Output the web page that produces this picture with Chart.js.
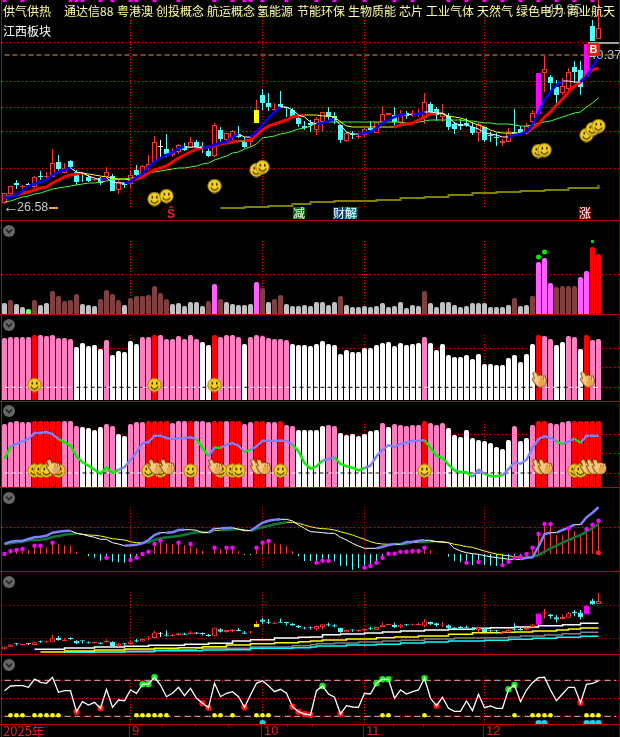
<!DOCTYPE html>
<html><head><meta charset="utf-8">
<style>
html,body{margin:0;padding:0;background:#000;overflow:hidden}
#stage{position:relative;width:620px;height:737px;background:#000;overflow:hidden}
canvas{position:absolute;left:1px}
.t{position:absolute;white-space:nowrap;font-family:"Noto Sans CJK SC","Liberation Sans",sans-serif;font-size:12px;line-height:12px}
.b{position:absolute;background:#c00000}
.n{font-family:"Liberation Sans",sans-serif}
.c{position:absolute;width:12px;height:12px}
</style>
<script src="https://cdn.jsdelivr.net/npm/chart.js@4/dist/chart.umd.min.js"></script>
</head><body><div id="stage"></div>
<script>
const bannerLabels=['供气供热','通达信88','粤港澳','创投概念','航运概念','氢能源','节能环保','生物质能','芯片','工业气体','天然气','绿色电力','商业航天'];
const bannerX=[3,64,117,156,207,257,297,348,399,426,477,516,567];
const monthLabels=['9','10','11','12'];
const monthIdx=[21,43,60,80];
const yearLabel='2025年';

const open_=[26.7,27.6,28.7,28.3,28.5,28.3,29.4,29.3,29.3,30.8,
29.7,30.9,29.8,29.7,29.3,29.0,29.2,29.3,29.4,28.0,
28.7,28.6,30.0,29.5,30.3,30.8,32.3,32.1,31.5,31.8,
32.4,32.2,32.8,32.4,31.9,31.4,34.0,33.0,33.3,33.6,
32.8,32.8,34.7,37.5,36.7,36.0,36.6,36.3,36.0,35.2,
34.4,34.7,34.0,34.8,35.8,35.4,34.5,32.9,33.6,33.3,
33.5,34.2,33.7,34.8,35.5,35.5,34.7,35.7,35.6,35.5,
35.2,36.6,36.1,35.3,35.4,34.6,34.6,34.7,34.3,33.7,
34.3,33.5,33.3,32.7,32.8,33.8,34.1,33.8,34.8,35.6,
39.7,39.3,38.3,37.7,38.1,40.3,40.0,39.3,44.4,43.1];
const close_=[27.7,28.4,28.5,28.4,28.5,29.3,29.3,29.4,30.7,30.1,
30.2,30.3,28.8,29.6,28.9,29.1,28.7,29.8,27.9,28.8,
28.5,29.5,29.5,30.4,30.6,32.8,32.3,31.6,31.8,32.5,
32.0,32.8,32.3,32.2,31.4,34.5,33.1,33.7,33.9,33.3,
32.3,33.1,36.0,36.7,36.3,36.1,36.3,36.2,35.3,34.6,
34.2,34.5,35.1,35.8,35.3,35.0,33.0,33.7,33.5,33.4,
34.1,34.0,34.8,35.6,35.7,34.8,35.6,35.4,35.7,35.7,
36.8,35.8,35.5,35.7,34.3,34.1,34.4,34.5,33.7,34.6,
33.0,33.4,33.2,32.9,33.7,33.6,33.6,34.4,35.7,39.7,
40.1,38.7,37.5,38.4,39.8,39.8,38.3,42.6,42.9,44.2];
const high_=[27.7,28.4,29.0,28.5,28.7,29.4,29.9,29.8,32.1,31.5,
30.7,31.0,30.0,29.8,29.5,29.2,29.3,30.3,29.6,29.0,
28.8,30.0,30.5,30.5,31.5,33.4,33.0,33.6,32.2,32.6,
32.7,33.3,33.0,32.8,32.2,34.7,34.3,33.7,34.0,34.4,
33.3,33.3,37.0,38.1,37.7,36.7,37.9,36.3,36.2,35.5,
34.9,35.0,35.3,35.8,36.3,35.8,34.5,33.8,33.9,33.7,
34.2,34.9,34.8,36.4,35.7,36.3,36.0,35.9,36.0,36.1,
37.7,36.8,36.3,36.6,35.7,34.8,35.1,35.2,34.8,34.8,
34.3,33.8,33.7,33.1,34.2,36.1,34.4,34.7,36.0,39.7,
41.4,39.5,39.0,39.2,40.2,40.9,40.9,42.6,45.0,47.0];
const low_=[26.6,27.6,28.1,28.0,28.3,28.2,29.0,29.0,29.3,29.8,
29.7,30.2,28.5,28.8,28.8,28.9,28.5,29.2,27.9,27.6,
28.2,28.2,29.3,29.4,30.0,30.7,31.2,31.3,31.3,31.6,
31.9,32.2,32.2,31.7,31.3,31.3,32.8,32.7,33.0,33.2,
32.2,32.3,34.7,36.0,35.9,35.8,36.3,35.3,35.2,34.3,
34.0,33.8,33.5,33.8,35.0,34.6,32.7,32.8,33.1,33.1,
33.3,33.7,33.7,34.7,35.5,34.4,34.4,35.1,35.3,35.3,
34.6,35.5,34.9,34.8,34.0,33.6,34.0,34.3,33.5,32.8,
32.8,32.8,32.4,32.4,32.8,33.5,33.5,33.5,34.7,35.6,
37.8,37.8,36.5,37.5,38.0,38.7,37.5,39.3,42.9,43.1];
const maFast=[27.2,27.3,27.5,27.9,28.4,28.6,28.8,29.0,29.5,29.8,
30.0,30.2,29.8,29.7,29.4,29.2,29.0,29.2,28.8,28.7,
28.7,28.8,29.3,29.6,30.3,30.8,31.2,31.5,31.7,32.2,
32.3,32.3,32.3,32.2,32.3,32.5,32.7,32.8,33.3,33.6,
33.3,33.3,33.8,34.5,35.2,35.8,36.3,36.3,36.0,35.5,
35.3,34.8,34.6,34.7,34.9,35.1,34.5,33.8,33.6,33.6,
33.7,33.8,34.2,34.7,35.0,35.3,35.5,35.6,35.5,35.6,
35.8,35.8,35.7,35.7,35.3,34.7,34.5,34.5,34.3,34.1,
33.7,33.6,33.5,33.3,33.3,33.5,33.6,33.8,34.5,35.7,
37.0,37.8,38.5,38.9,38.9,38.8,38.8,39.3,40.3,41.3];
const maMid=[27.3,27.4,27.5,27.7,27.8,28.0,28.2,28.3,28.7,29.0,
29.3,29.5,29.6,29.7,29.6,29.5,29.4,29.3,29.2,29.1,
29.1,29.0,29.1,29.3,29.7,30.0,30.2,30.4,30.8,31.2,
31.5,31.8,32.1,32.2,32.3,32.4,32.6,32.7,32.8,32.9,
32.9,33.0,33.5,34.0,34.4,34.6,34.8,35.0,35.3,35.4,
35.5,35.5,35.5,35.4,35.4,35.3,34.8,34.4,34.3,34.3,
34.3,34.3,34.3,34.3,34.3,34.3,34.5,34.6,34.7,35.0,
35.3,35.6,35.7,35.6,35.4,35.3,35.2,35.0,34.7,34.5,
34.3,34.0,33.8,33.7,33.7,33.7,33.7,33.7,34.2,34.6,
35.3,35.8,36.5,37.1,37.8,38.4,38.8,39.5,40.0,40.2];
const maSlow=[26.8,26.9,27.1,27.3,27.4,27.6,27.7,27.9,28.1,28.2,
28.3,28.4,28.5,28.6,28.7,28.7,28.8,28.9,29.0,29.1,
29.1,29.2,29.3,29.4,29.7,29.8,29.9,30.0,30.1,30.2,
30.2,30.3,30.4,30.6,30.7,31.0,31.2,31.4,31.7,31.8,
32.1,32.3,32.6,33.2,33.3,33.4,33.6,33.7,33.9,34.1,
34.2,34.4,34.7,34.8,34.8,34.8,34.8,34.8,34.8,34.8,
34.8,34.8,34.8,34.8,34.8,34.8,34.8,34.7,34.7,34.8,
34.9,35.0,35.0,35.0,35.0,35.0,35.0,34.9,34.9,34.8,
34.7,34.7,34.6,34.6,34.6,34.5,34.4,34.4,34.5,34.7,
34.8,34.9,35.1,35.3,35.5,35.7,35.8,36.3,36.7,37.2];
const oliveIdx=[36,40,44,48,51,55,59,62,66,70,74,78,82,86,90,94,99];
const oliveVal=[26.2,26.3,26.4,26.6,26.8,26.9,26.9,27.0,27.2,27.3,27.5,27.7,27.8,27.9,28.0,28.2,28.5];
const topMarkIdx=[0,3,11,12,13,16,18,21,22,25,29,35,38,40,41,43,47,52,55,60,65,68,74,77,80,83,86,89,92,95,98];
const magentaCandles=[89,97];
const yellowCandles=[42];
const mainSmileIdx=[25,27,35,42,43,89,90,97,98,99];
const mainSmileVal=[27.1,27.4,28.4,30.0,30.3,31.9,32.0,33.5,34.1,34.4];

const volume=[11,14,10,7,5,14,9,11,23,18,
13,14,20,10,9,8,15,24,20,14,
9,16,18,18,19,28,21,15,10,11,
8,12,12,8,13,30,15,12,10,9,
9,10,32,26,12,15,19,10,8,8,
9,8,12,12,9,12,18,9,7,7,
8,7,8,11,7,8,12,6,9,8,
23,11,7,12,12,9,7,8,11,11,
11,7,7,7,9,16,8,9,18,52,
56,31,27,28,28,28,37,43,67,60];
const volKind=('gbggnbggbb'+'bbbgggbbbb'+'gbbbbbbbgg'+'ggggbmbggg'+'ggmbgbbggg'+'ggggggbggg'+'gggggggggg'+'bggggggggg'+'gggggbggbm'+'mmbbbbmmrr').split('');
const volDotIdx=[89,90];const volDotVal=[57,62];
const volDashIdx=[98];const volDashVal=[72.5];

const strength=[62,63,63,63,63,65,65,64,65,62,
62,61,53,57,54,55,51,60,45,49,
48,59,56,63,63,65,65,61,61,64,
61,65,61,58,55,65,63,65,65,63,
56,63,65,64,62,61,61,60,56,55,
55,54,56,59,56,55,46,50,48,48,
52,52,55,57,58,54,57,55,56,57,
63,57,50,56,45,43,43,45,41,46,
36,36,35,35,42,45,38,46,56,65,
64,61,55,58,64,63,51,65,60,61];
const strengthKind=('ppppprpppp'+'ppwwwwwpww'+'wwwpprpppp'+'pppwwrpppp'+'wpppppppww'+'wwwwwwwwww'+'wwwwwwwwww'+'pwwwwwwwww'+'wwwwwwwwwr'+'ppwwppwrpp').split('');
const s3SmileIdx=[5,25,35];const s3SmileVal=[15,15,15];
const s3HandIdx=[89,97];const s3HandVal=[21,21];

const trend=[63,65,66,65,65,66,66,66,66,66,
66,66,61,60,59,57,60,63,61,53,
51,63,65,65,66,66,66,66,64,66,
66,66,66,66,65,66,66,66,66,66,
63,65,66,66,65,65,66,62,61,57,
57,57,57,61,62,61,54,52,53,51,
53,56,57,64,60,63,62,61,62,62,
66,64,62,64,59,52,50,57,49,47,
46,44,40,38,47,61,46,49,62,66,
66,64,63,65,66,66,66,66,66,66];
const trendKind=('ppppprrrrr'+'pppwwwwppw'+'wppprrrrpp'+'prppprrprr'+'pprrpprppw'+'wwwwppwwww'+'wwwpwppppp'+'rpppwwwwww'+'wwwwwpwwpr'+'rpppprrrrr').split('');
const kdj=[28,40.7,43,45.7,48,54,54,55,53,48,
44.7,41.3,30.7,24.7,21.3,17.3,13.3,19.7,14,17.3,
19.7,27.3,34.7,44,45,51.3,51.3,49,48,48.7,
48.7,49.7,48,39,30.7,39.7,39,42.3,44,41.3,
35,37.3,40.7,46.3,46.3,46.3,46.3,46.3,42.3,35.7,
24,18.3,20.7,26.3,28,30,23,20.7,19.3,16.7,
19,21.3,30.7,37.3,41.7,40,43,44.3,46,46.3,
46.7,39,31.3,29,22.3,16.7,14.7,14.7,10,17.3,
13.3,10.7,10.7,11.7,18,24.7,23.3,27.3,39,48,
50.7,49,45.7,43,45.7,48.3,44,51.3,51.3,51.3];
const kdjGreen=[0,9,10,11,12,13,14,15,16,17,18,32,33,35,40,48,49,50,51,52,55,56,57,58,59,70,71,72,73,74,75,76,77,80,81,82,92,95];
const t4SmileIdx=[5,6,7,9,24,26,31,36,38,39,46,70,95,96];
const t4SmileVal=[16.3,16.3,16.3,16.3,16.3,16.3,16.3,16.3,16.3,16.3,16.3,16.3,16.3,16.3];
const t4HandIdx=[8,25,27,35,42,43,89,90,97,98,99];
const t4HandVal=[20.7,20.7,20.7,20.7,20.7,20.7,20.7,20.7,20.7,20.7,20.7];

const macd=[0,3,4,5,4,8.3,8.3,6.7,11.3,9.7,
8.7,8.3,2,0,-2,-3.7,-6.7,-3.7,-7.7,-8.3,
-8.7,-6,-3.7,0,2.3,10,13.3,10.7,9.7,11.3,
8.7,10,5.7,3.3,0,6.3,5,6.3,6.3,3,
-1,-1,6.3,11.3,13,10.7,9.7,8.3,3,-2,
-7,-7,-8.7,-6.7,-6.7,-7,-12,-12,-16,-14.3,
-13.7,-11.7,-8.7,-3.7,.3,.3,2.3,2.3,3,3,
6.3,4,.7,0,-2.7,-7,-8.3,-8.7,-11,-8,
-11,-11.7,-12,-11,-7.7,-4,-3,0,6.3,20,
30,30,19,19,25.7,23,19,25,29.3,33.3];
const dif=[10,12.3,13,13.3,15,16.7,17.3,18.3,21.3,22.3,
23,23.3,20.7,19.7,18,16.7,14.7,14.7,11.3,10,
8.3,8.7,9.3,10.7,14,19,21.3,21.3,21.7,24,
24.3,24.3,23.7,21.3,21.3,25.7,25.7,26,26.3,24.7,
23.3,23.3,27.3,31.3,33.3,34.3,34.7,34.7,33,29,
25.7,22.3,22,21.3,20.7,20.7,16.7,14,10.7,8,
5.7,5.7,5.7,7.3,9,10,9.7,12,12.3,13.3,
13.7,13.7,12.3,12.3,11.3,5.7,3,1.3,.3,-.3,
-1.7,-2.7,-3.7,-4.3,-5.3,-5.3,-5.3,-3.7,-3.3,7.3,
20,21.3,21.3,24,26.3,29.3,29.3,36.7,41.3,46.7];
const dea=[10,10.7,11.7,12.3,13.7,14,14.3,15,17,18,
19.3,20,20.7,19.7,19,18.7,18,16.7,15.3,14.7,
14,12.3,11.3,11.3,11.7,14,15.7,16.7,17.3,18,
19.3,20.7,21.7,22,21.7,23.7,23.7,24,24.7,25,
24,23.3,25.3,26.7,28,29.7,30.7,31.7,31.7,30.7,
29,27.3,26,25.3,25,24,22.3,20.7,19,16.7,
14.7,12.3,10.7,10,9.7,9.7,10,10.3,11.7,11.7,
12,12.3,12.3,11.7,11.3,9.7,8.7,7.3,6.7,4.7,
3,1.3,0,-1,-1.7,-2.7,-3.3,-3.3,-2.7,-1,
2.3,5.7,8.3,11.3,14,16.7,19,22.3,25.7,30];
const macdDotIdx=[0,1,2,3,5,6,8,17,21,22,23,24,25,26,29,31,35,37,38,42,43,44,52,53,54,60,61,62,63,64,65,66,67,68,69,70,77,79,83,84,85,86,87,88,89,90,91,94,97,98,99];

const whiteIdx=[5,10,15,20,24,30,34,38,41,45,49,51,53,56,60,63,66,70,74,78,81,85,89,93,96,99];
const whiteVal=[4.7,6,7,7.7,8.7,9.7,10.7,13,14.3,16,16.7,17,19.3,20,21,22,23,24,24.7,25.7,26.3,27,28.3,29.3,30.7,30.7];
const yellowIdx=[6,10,15,20,25,29,33,37,41,45,49,51,53,57,62,65,69,74,78,83,85,88,92,94,96,99];
const yellowVal=[2,3,4,5,5.7,6.3,7.3,9,10.3,11.3,12.3,13,14,15,16.3,17,18,19.7,21.3,21.7,22,23,24,25,26,26];
const grayIdx=[13,20,27,32,41,48,51,52,55,59,63,66,70,75,80,84,86,90,93,96,99];
const grayVal=[2,4,4.3,5.7,7,8.3,9.3,10.3,11,12,13,13.7,15,16,16.3,17,18,19,20.3,21.7,21.7];
const cyanIdx=[10,15,20,25,33,37,41,48,51,52,57,62,66,70,74,80,84,88,92,96,99];
const cyanVal=[1.7,2,2.3,3.3,4,4.3,5.7,6.3,7,8,9,9.7,11,12,13,13.7,14.7,15.7,16.7,17.7,17.7];

const osc=[33.3,38,38.3,38.3,36.7,45,41.7,40.7,46.7,31.7,
33.3,33.3,12.3,22.3,19,21.7,15.7,34.7,16.7,24,
23.3,34,30.7,39.7,40,46.7,39,27.3,30.7,36.7,
28.3,35.7,25.7,20.7,16.3,40.7,27.3,30.7,32.3,27.3,
16.7,29,40.7,43.3,38.3,32.3,34.7,30.7,17.3,12.3,
10,9,33.3,38,30,26.7,10,18.3,17,16.7,
30.7,30,40.7,44.7,44.7,25.7,34,30,32.3,34,
45.7,25.7,18.3,26.7,15.7,12.7,12.7,23,13.3,29.7,
16.3,18,15.7,15.7,34.7,39,22.3,34,41.3,46.3,
46.7,34,23.3,30,36.7,36.7,21.3,39.7,40.7,43];
const oscRedIdx=[12,16,33,34,40,48,49,50,51,56,72,96];
const oscGreenIdx=[23,24,25,53,62,63,64,70,84,85];
const yellowDotIdx=[1,2,3,5,6,7,8,9,22,23,24,25,26,27,35,36,38,42,43,44,63,64,70,85,88,89,90,91,97,98,99];
const cyanDotIdx=[43,89,90,97,98,99];

const labels=[...Array(103).keys()];
const RED='#ff3232',CYAN='#54fcfc',MAG='#ff00ff',BLK='#000000';
const stage=document.getElementById('stage');
function sparse(idx,vals){const a=new Array(100).fill(null);idx.forEach((k,j)=>{a[k]=vals[j]});return a}
function constAt(idx,v){const a=new Array(100).fill(null);idx.forEach(k=>{a[k]=v});return a}
function level(v){return new Array(103).fill(v)}

function smileIcon(){const c=document.createElement('canvas');c.width=15;c.height=15;const x=c.getContext('2d');
 x.fillStyle='#f4d11c';x.strokeStyle='#9a7a10';x.lineWidth=1;x.beginPath();x.arc(7.5,7.5,6.7,0,7);x.fill();x.stroke();
 x.fillStyle='#3a2a00';x.fillRect(4.5,4.5,1.6,2.5);x.fillRect(9,4.5,1.6,2.5);
 x.strokeStyle='#3a2a00';x.lineWidth=1.1;x.beginPath();x.arc(7.5,7.8,3.8,.25,Math.PI-.25);x.stroke();return c}
function handIcon(){const c=document.createElement('canvas');c.width=17;c.height=17;const x=c.getContext('2d');
 const shapes=()=>{x.beginPath();x.arc(10.5,10.5,5.5,0,7);x.rect(8,6,7,5);x.moveTo(3,3);x.lineTo(5.8,1.8);x.lineTo(9.5,9);x.lineTo(6,10.5);x.closePath();x.moveTo(2.5,8.5);x.lineTo(5,8);x.lineTo(8.5,13);x.lineTo(6,14);x.closePath()};
 x.strokeStyle='#6a4210';x.lineWidth=1.6;x.lineJoin='round';shapes();x.stroke();
 x.fillStyle='#f8c878';shapes();x.fill('nonzero');
 x.fillStyle='#e8a850';x.beginPath();x.arc(12,12,3.5,0,7);x.fill();
 x.strokeStyle='#a06a20';x.lineWidth=1;x.beginPath();x.moveTo(11,6.5);x.lineTo(11,9);x.moveTo(13.5,6.5);x.lineTo(13.5,9);x.stroke();return c}
const SMILE=smileIcon(),HAND=handIcon();

const guides={id:'guides',beforeDatasetsDraw(ch,a,o){const y=ch.scales[o.axis||'y'],x=ch.scales.x,c=ch.ctx;c.save();c.strokeStyle='#ff0000';c.setLineDash([1,2]);c.lineWidth=1;
 monthIdx.forEach(m=>{const p=Math.floor(x.getPixelForValue(m))+.5;c.beginPath();c.moveTo(p,y.getPixelForValue(o.from));c.lineTo(p,y.getPixelForValue(o.to));c.stroke()});c.restore()}};

function panel(top,height,yMin,yMax,gridVals,datasets,from,to,extra){
 const cv=document.createElement('canvas');cv.width=619;cv.height=height;cv.style.top=top+'px';cv.style.width='619px';cv.style.height=height+'px';stage.appendChild(cv);
 const scales=Object.assign({x:{display:false,grid:{display:false},offset:true},
  y:{min:yMin,max:yMax,position:'left',afterBuildTicks:s=>{s.ticks=gridVals.map(value=>({value}))},afterFit:s=>{s.width=0},
   ticks:{display:false},grid:{color:'#ff0000',lineWidth:1,drawTicks:false},border:{display:false,dash:[1,3]}}},extra||{});
 return new Chart(cv,{type:'bar',data:{labels,datasets},plugins:[guides],options:{responsive:false,animation:false,devicePixelRatio:1,events:[],
  layout:{autoPadding:false,padding:{left:.5,right:.5,top:0,bottom:0}},scales,plugins:{legend:{display:false},tooltip:{enabled:false},guides:{from,to}}}});
}
function bars(data,colors,extra){return Object.assign({type:'bar',data,backgroundColor:colors,barThickness:5,grouped:false,inflateAmount:0,borderWidth:0,order:5},extra||{})}
function candleColor(i){if(magentaCandles.includes(i))return MAG;if(yellowCandles.includes(i))return '#ffff00';return close_[i]>open_[i]?RED:(close_[i]<open_[i]?CYAN:'#ffffff')}
function candleSets(){
 const idx=close_.map((_,i)=>i);
 return [
  {type:'bar',data:idx.map(i=>[low_[i],high_[i]]),backgroundColor:idx.map(i=>yellowCandles.includes(i)?RED:candleColor(i)),barThickness:1,grouped:false,inflateAmount:0,borderWidth:0,order:6},
  {type:'bar',data:idx.map(i=>[Math.min(open_[i],close_[i]),Math.max(open_[i],close_[i])]),
   backgroundColor:idx.map(i=>{const c=candleColor(i);return c===RED?BLK:c}),borderColor:idx.map(i=>candleColor(i)),
   borderWidth:1,borderSkipped:false,barThickness:5,grouped:false,inflateAmount:0,minBarLength:1,order:5}
 ];
}
function line(data,color,width,extra){return Object.assign({type:'line',data,borderColor:color,borderWidth:width,pointRadius:0,tension:0,spanGaps:true,order:3},extra||{})}
function icons(data,icon,radius,extra){return Object.assign({type:'line',data,showLine:false,pointStyle:icon,pointRadius:radius,clip:false,order:1},extra||{})}
function dots(data,color,radius,extra){return Object.assign({type:'line',data,showLine:false,pointStyle:'circle',pointRadius:radius,pointBackgroundColor:color,pointBorderWidth:0,order:2},extra||{})}
const rising=(up,down,wUp,wDown)=>({borderColor:c=>c.p1.parsed.y>c.p0.parsed.y?up:down,borderWidth:c=>c.p1.parsed.y>c.p0.parsed.y?wUp:wDown});

/* main */
panel(0,220,25,47,[42.75,38.9,36.3,33.9,30.1],[
 ...candleSets(),
 {type:'bar',data:constAt(topMarkIdx,[46.8,47]),backgroundColor:MAG,barThickness:4,grouped:false,inflateAmount:0,order:4},
 line(level(41.5),'#e8a020',1,{borderDash:[5,3],order:7}),
 line(sparse(oliveIdx,oliveVal),'#808000',2,{stepped:true,order:4}),
 line(maSlow,'#40ff40',1,{order:4}),
 line(maMid,'#ff0000',3,{segment:rising('#ff0000','#ffff00',3,1),order:3}),
 line(maFast,'#0000ff',2.5,{segment:rising('#0000ff','#ffffff',2.5,1),order:2}),
 icons(sparse(mainSmileIdx,mainSmileVal),SMILE,7),
],45.3,26.3);

/* volume */
const volColor={g:'#c0c0c0',b:'#804040',m:'#ff60ff',r:'#ff0000',n:'#60ff60'};
panel(221,93,0,93,[39],[
 bars(volume,volKind.map(k=>volColor[k]),{borderRadius:{topLeft:2,topRight:2}}),
 dots(sparse(volDotIdx,volDotVal),'#00f000',2.5),
 dots(sparse(volDashIdx,volDashVal),'#00f000',3,{pointStyle:'rect',pointRadius:2}),
],73,0);

/* strength */
const kindColor={p:'#ff80c0',w:'#ffffff',r:'#ff0000'};
const xorLine=k=>({borderColor:c=>k[c.p0DataIndex]==='w'?'#000000':'#ffffff'});
panel(315,85,0,85,[51.7,32.7,12.7],[
 bars(strength,strengthKind.map(k=>kindColor[k]),{borderRadius:{topLeft:2,topRight:2}}),
 line(new Array(100).fill(12.7),'#000',1,{borderDash:[4,3],segment:xorLine(strengthKind)}),
 icons(sparse(s3SmileIdx,s3SmileVal),SMILE,7),
 icons(sparse(s3HandIdx,s3HandVal),HAND,9),
],65,0);

/* trend */
panel(402,85,0,85,[53,34,14],[
 bars(trend,trendKind.map(k=>kindColor[k]),{borderRadius:{topLeft:2,topRight:2}}),
 line(new Array(100).fill(14),'#000',1,{borderDash:[4,3],segment:xorLine(trendKind)}),
 line(kdj,'#8080ff',2.5,{segment:{borderColor:c=>kdjGreen.includes(c.p0DataIndex)?'#00f000':'#8080ff'},order:2}),
 icons(sparse(t4SmileIdx,t4SmileVal),SMILE,7),
 icons(sparse(t4HandIdx,t4HandVal),HAND,9,{order:0}),
],66,0);

/* macd */
panel(488,82,-16,66,[26.7],[
 {type:'bar',data:macd,backgroundColor:macd.map(v=>v>=0?'#ff3232':CYAN),barThickness:1,grouped:false,inflateAmount:0,order:6},
 line(dea,'#006a30',2.5,{segment:rising('#087a38','#ffff00',2.5,1),order:4}),
 line(dif,'#8080ff',2.5,{segment:rising('#8080ff','#ffffff',2.5,1),order:3}),
 dots(sparse(macdDotIdx,macdDotIdx.map(i=>macd[i])),'#ff00ff',2.2),
 dots(sparse([99],[1.3]),'#ff2020',2.5),
],46.7,-16);

/* price overview */
panel(572,82,25,54.7,[],[
 ...candleSets(),
 line(sparse(cyanIdx,cyanVal),'#00ffff',1.5,{stepped:true,yAxisID:'y2',order:9}),
 line(sparse(grayIdx,grayVal),'#808080',1.5,{stepped:true,yAxisID:'y2',order:9}),
 line(sparse(yellowIdx,yellowVal),'#ffff00',1.5,{stepped:true,yAxisID:'y2',order:8}),
 line(sparse(whiteIdx,whiteVal),'#ffffff',1.5,{stepped:true,yAxisID:'y2',order:8}),
],47.5,25,{y2:{display:true,min:0,max:82,position:'right',afterBuildTicks:s=>{s.ticks=[49,16].map(value=>({value}))},afterFit:s=>{s.width=0},
 ticks:{display:false},grid:{color:'#ff0000',drawTicks:false},border:{display:false,dash:[1,3]}}});

/* oscillator */
const axisChart=panel(655,69,0,69,[25.7,43.7,7.7],[
 line(level(43.7),'#c8c8c8',1,{borderDash:[6,4],order:9}),
 line(level(7.7),'#c8c8c8',1,{borderDash:[6,4],order:9}),
 line(osc,'#ffffff',1.3,{order:2}),
 dots(sparse(oscRedIdx,oscRedIdx.map(i=>osc[i])),'#ff1010',3.2,{order:3}),
 dots(sparse(oscGreenIdx,oscGreenIdx.map(i=>osc[i])),'#10f010',3.2,{order:3}),
 dots(constAt(yellowDotIdx,8.7),'#ffff00',2.3,{order:3}),
 dots(constAt(cyanDotIdx,1),'#00d8ff',3,{order:3}),
],47,0);

/* frame */
function box(l,t,w,h,c){const d=document.createElement('div');d.className='b';d.style.cssText=`left:${l}px;top:${t}px;width:${w}px;height:${h}px;background:${c}`;stage.appendChild(d);return d}
[220,314,401,487,571,654,724].forEach(y=>box(0,y,620,1,'#c00000'));
box(1,0,1,737,'#c00000');box(619,0,1,737,'#800000');

/* text */
function text(s,l,t,color,extra,cls){const d=document.createElement('div');d.className='t '+(cls||'');d.textContent=s;d.style.left=l+'px';d.style.top=t+'px';d.style.color=color;if(extra)d.style.cssText+=extra;stage.appendChild(d);return d}
text('49.95',547,2,'#909090','font-size:14px;line-height:14px','n');
bannerLabels.forEach((s,i)=>text(s,bannerX[i],5,'#ffffa0'));
text('江西板块',3,25,'#ffffff');
text('←',3,199,'#c8c8c8','font-size:16px;line-height:16px','n');
text('26.58',17,201,'#c8c8c8','font-size:12.5px;line-height:13px','n');
box(49,207,9,1.5,'#e8b020');
text('Ŝ',167,208,'#ff2020','font-size:12px;font-weight:bold','n');
text('减',293,207,'#ffffff','background:#007000;width:12px;height:12px');
text('财',333,207,'#ffffff','background:#004080;width:12px;height:12px');
text('解',345,207,'#ffffff','background:#008080;width:12px;height:12px');
text('涨',579,207,'#ffffff','background:#800000;width:12px;height:12px');
box(588,42,31,2,'#a0a0a0');
text('40.37',589,48,'#c0c0c0','font-size:13px;line-height:13px','n');
text('B',587,43,'#ffffff','background:#e02010;width:13px;height:13px;border-radius:3px;font-size:11px;line-height:13px;text-align:center;font-weight:bold','n');

/* time axis */
const x=axisChart.scales.x;
text(yearLabel,3,724,'#e02020','font-size:13px;line-height:14px');
monthIdx.forEach((m,i)=>{const p=Math.floor(x.getPixelForValue(m))+1;box(p-1,725,1,12,'#c00000');text(monthLabels[i],p+2,724,'#e02020','font-size:13px;line-height:14px','n')});
[162,195,228,287,312,393,423,453,513,543,573,603].forEach(px=>box(px,725,1,2,'#c00000'));

/* chevrons */
[229,323,409,496,580,663].forEach(cy=>{const w=document.createElement('div');w.className='c';w.style.left='3px';w.style.top=(cy-6)+'px';
 w.innerHTML='<svg width="12" height="12" viewBox="0 0 12 12"><circle cx="6" cy="6" r="6" fill="#666"/><path d="M3 4.5 L6 7.5 L9 4.5" stroke="#222" stroke-width="1.6" fill="none"/></svg>';stage.appendChild(w)});
</script></body></html>
